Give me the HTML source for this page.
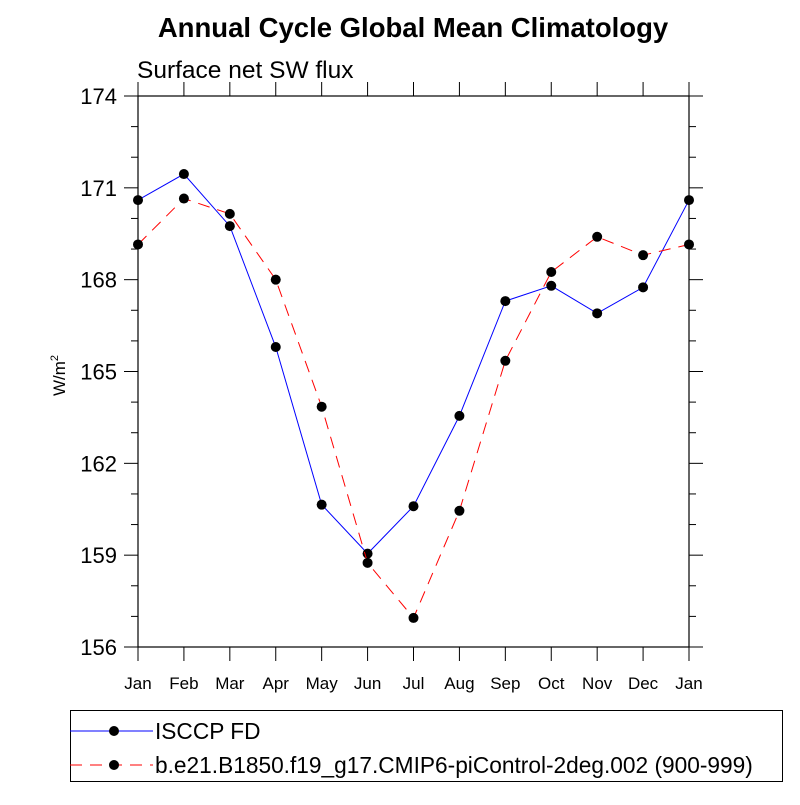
<!DOCTYPE html>
<html><head><meta charset="utf-8"><style>
body{margin:0;background:#fff;font-family:"Liberation Sans",sans-serif}
svg text{font-family:"Liberation Sans",sans-serif}
</style></head><body>
<svg id="chart" width="800" height="800" xmlns="http://www.w3.org/2000/svg">
<text x="413" y="37" text-anchor="middle" font-size="27.5" font-weight="bold">Annual Cycle Global Mean Climatology</text>
<text x="137" y="78" font-size="24.5">Surface net SW flux</text>
<g id="axes"></g>
<g id="series"></g>
<rect x="70.5" y="710.5" width="712" height="71" fill="none" stroke="#000" stroke-width="1"/>
<g>
<line x1="70" y1="731" x2="153" y2="731" stroke="#00f" stroke-width="1"/>
<circle cx="114" cy="731" r="5" fill="#000"/>
<text x="155" y="739" font-size="22.7">ISCCP FD</text></g>
<g>
<line x1="70" y1="765" x2="153" y2="765" stroke="#f00" stroke-width="1" stroke-dasharray="12,8"/>
<circle cx="114" cy="765" r="5" fill="#000"/>
<text x="155" y="773" font-size="22.7">b.e21.B1850.f19_g17.CMIP6-piControl-2deg.002 (900-999)</text></g>
</svg>
<script>
const months=["Jan","Feb","Mar","Apr","May","Jun","Jul","Aug","Sep","Oct","Nov","Dec","Jan"];
const isccp=[170.6,171.45,169.75,165.8,160.65,159.05,160.6,163.55,167.3,167.8,166.9,167.75,170.6];
const model=[169.15,170.65,170.15,168.0,163.85,158.75,156.95,160.45,165.35,168.25,169.4,168.8,169.15];
const yTicks=[156,159,162,165,168,171,174];
const X0=138,X1=689,Y0=647,Y1=96,YMIN=156,YMAX=174;
const xs=i=>X0+(X1-X0)*i/(months.length-1);
const ys=v=>Y0-(Y0-Y1)*(v-YMIN)/(YMAX-YMIN);
const NS="http://www.w3.org/2000/svg";
function mk(t,a,p){const e=document.createElementNS(NS,t);for(const k in a)e.setAttribute(k,a[k]);p.appendChild(e);return e;}
const ax=document.getElementById('axes');
const frame=mk('rect',{x:X0,y:Y1,width:X1-X0,height:Y0-Y1,fill:'none',stroke:'#000','stroke-width':1.2},ax);


for(let v=YMIN;v<=YMAX;v++){
 const major=(v-YMIN)%3===0,L=major?14:7,y=ys(v);
 mk('line',{x1:X0-L,y1:y,x2:X0,y2:y,stroke:'#000'},ax);
 mk('line',{x1:X1,y1:y,x2:X1+L,y2:y,stroke:'#000'},ax);
}
yTicks.forEach(v=>{
 const t=mk('text',{x:X0-21,y:ys(v)+8,'text-anchor':'end','font-size':22},ax);t.textContent=v;
 
 
});
months.forEach((m,i)=>{
 const x=xs(i);
 mk('line',{x1:x,y1:Y0,x2:x,y2:Y0+14,stroke:'#000'},ax);
 mk('line',{x1:x,y1:Y1-14,x2:x,y2:Y1,stroke:'#000'},ax);
 const t=mk('text',{x:x,y:Y0+42,'text-anchor':'middle','font-size':17},ax);t.textContent=m;
 
 
});
const yt=mk('text',{x:0,y:0,'font-size':17,transform:'translate(65,396) rotate(-90)'},ax);
yt.innerHTML='W/m<tspan font-size="11" dy="-7">2</tspan>';


const sg=document.getElementById('series');
function series(vals,color,dash,name){
 const g=mk('g',{},sg);
 
 
 mk('polyline',{points:vals.map((v,i)=>xs(i)+','+ys(v)).join(' '),fill:'none',stroke:color,'stroke-width':1,'stroke-dasharray':dash},g);
 vals.forEach((v,i)=>{const c=mk('circle',{cx:xs(i),cy:ys(v),r:5,fill:'#000'},g);
  
  });
}
series(isccp,'#00f','none','isccp-series');
series(model,'#f00','12,8','model-series');
</script>
</body></html>
